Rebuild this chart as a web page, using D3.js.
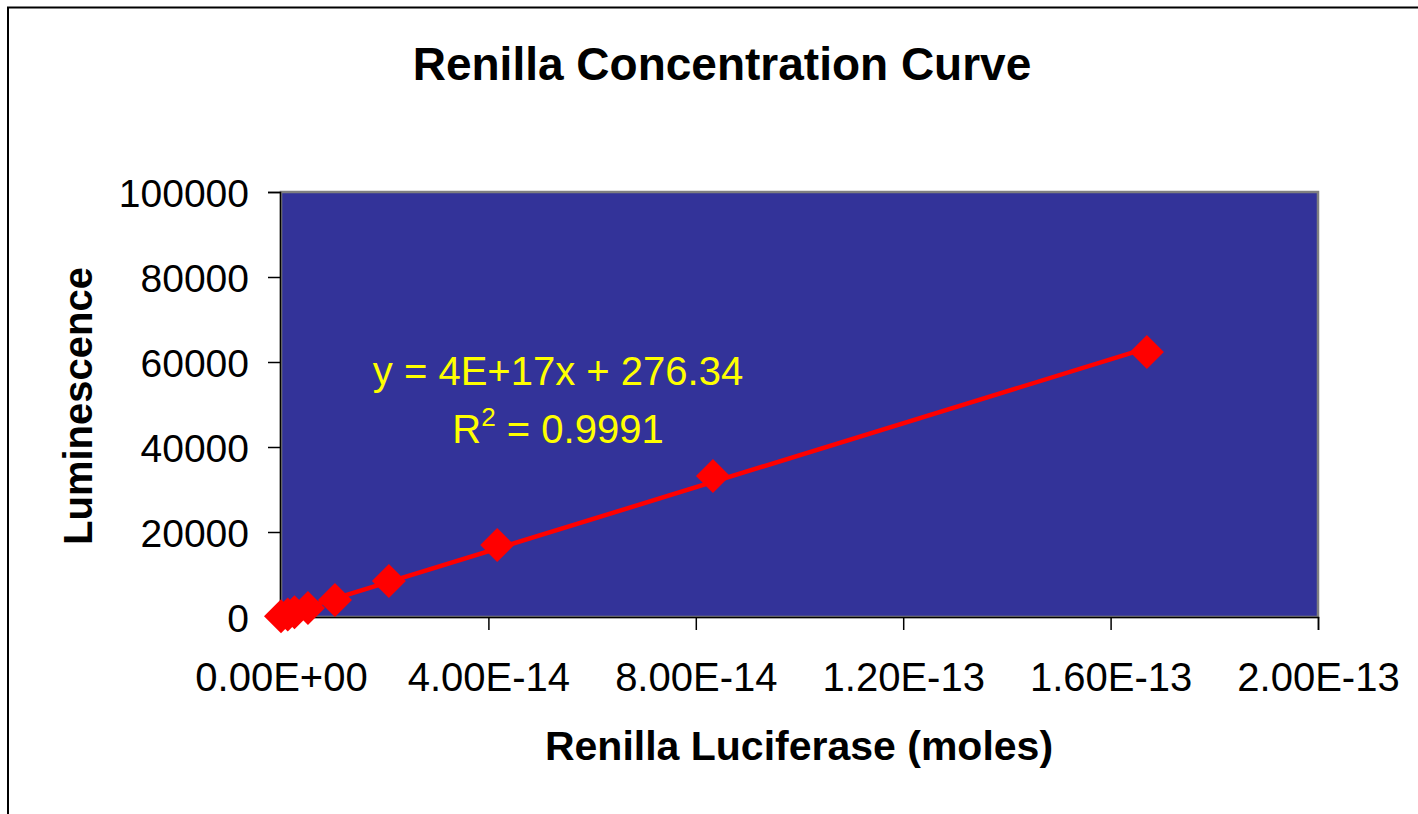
<!DOCTYPE html>
<html>
<head>
<meta charset="utf-8">
<script src="https://cdn.jsdelivr.net/npm/d3@7"></script>
<style>
html,body{margin:0;padding:0;background:#fff;}
svg{display:block;}
text{font-family:Arial,"Liberation Sans",sans-serif;}
</style>
</head>
<body>
<svg id="chart" width="1418" height="814"></svg>
<script>
// ---- data ----
const moles = [0, 1.3e-15, 2.6e-15, 5.2e-15, 1.04e-14, 2.08e-14, 4.17e-14, 8.33e-14, 1.67e-13];
const luminescence = [150, 600, 1100, 2100, 4000, 8450, 16950, 33200, 62350];
const xTicks = [0, 4e-14, 8e-14, 1.2e-13, 1.6e-13, 2e-13];
const yTicks = [0, 20000, 40000, 60000, 80000, 100000];
const titleText = "Renilla Concentration Curve";
const xTitle = "Renilla Luciferase (moles)";
const yTitle = "Luminescence";
const eqLine1 = "y = 4E+17x + 276.34";
const eqR2 = "0.9991";

const svg = d3.select("#chart");
const L = 281, R = 1318, T = 192, B = 617;

const x = d3.scaleLinear().domain([0, 2e-13]).range([L, R]);
const y = d3.scaleLinear().domain([0, 100000]).range([B, T]);

// outer chart border
svg.append("path").attr("d", "M8,814 L8,7.5 L1418,7.5").attr("fill", "none")
  .attr("stroke", "#000").attr("stroke-width", 2);

// plot area
svg.append("rect").attr("x", L).attr("y", T).attr("width", R - L).attr("height", B - T)
  .attr("fill", "#333399").attr("stroke", "#808080").attr("stroke-width", 2.5);

function fmtExp(v) {
  let s = v.toExponential(2).toUpperCase();
  return s.replace(/E([+-])(\d)$/, "E$10$2");
}

// axes
const xAxis = d3.axisBottom(x).tickValues(xTicks).tickSize(13).tickFormat(fmtExp);
const gx = svg.append("g").attr("transform", `translate(0,${B})`).call(xAxis);
gx.select(".domain").attr("stroke", "#000").attr("stroke-width", 1.5);
gx.selectAll(".tick line").attr("stroke", "#000").attr("stroke-width", 1.5);
gx.selectAll(".tick text").attr("font-size", 40).attr("fill", "#000")
  .attr("font-family", "Arial, 'Liberation Sans', sans-serif").attr("y", 74).attr("dy", 0);

const yAxis = d3.axisLeft(y).tickValues(yTicks).tickSize(12).tickFormat(d3.format("d"));
const gy = svg.append("g").attr("transform", `translate(${L - 1},0)`).call(yAxis);
gy.select(".domain").attr("stroke", "#000").attr("stroke-width", 1.5);
gy.selectAll(".tick line").attr("stroke", "#000").attr("stroke-width", 1.5);
gy.selectAll(".tick text").attr("font-size", 39).attr("fill", "#000")
  .attr("font-family", "Arial, 'Liberation Sans', sans-serif").attr("x", -31).attr("dy", "0.36em");

// linear trendline (least squares from data)
const n = moles.length;
const mx = d3.mean(moles), my = d3.mean(luminescence);
let sxy = 0, sxx = 0;
for (let i = 0; i < n; i++) { sxy += (moles[i] - mx) * (luminescence[i] - my); sxx += (moles[i] - mx) ** 2; }
const slope = sxy / sxx, intercept = my - slope * mx;
const x0 = d3.min(moles), x1 = d3.max(moles);
svg.append("line")
  .attr("x1", x(x0)).attr("y1", y(slope * x0 + intercept))
  .attr("x2", x(x1)).attr("y2", y(slope * x1 + intercept))
  .attr("stroke", "#ff0000").attr("stroke-width", 4.5);

// markers
const h = 17;
svg.append("g").selectAll("path").data(moles.map((m, i) => [m, luminescence[i]]))
  .join("path")
  .attr("d", d => `M${x(d[0])},${y(d[1]) - h} L${x(d[0]) + h},${y(d[1])} L${x(d[0])},${y(d[1]) + h} L${x(d[0]) - h},${y(d[1])} Z`)
  .attr("fill", "#ff0000");

// equation text
const eq = svg.append("g").attr("fill", "#ffff00").attr("font-size", 40);
eq.append("text").attr("x", 558).attr("y", 385).attr("text-anchor", "middle").text(eqLine1);
const r2 = eq.append("text").attr("x", 558).attr("y", 443).attr("text-anchor", "middle");
r2.append("tspan").text("R");
r2.append("tspan").attr("font-size", 26).attr("dy", -17).text("2");
r2.append("tspan").attr("dy", 17).text(" = " + eqR2);

// titles
svg.append("text").attr("x", 722).attr("y", 80).attr("text-anchor", "middle")
  .attr("font-size", 46).attr("font-weight", "bold").text(titleText);
svg.append("text").attr("x", 799).attr("y", 760).attr("text-anchor", "middle")
  .attr("font-size", 41).attr("font-weight", "bold").text(xTitle);
svg.append("text").attr("transform", "translate(92,406) rotate(-90)").attr("text-anchor", "middle")
  .attr("font-size", 40).attr("font-weight", "bold").text(yTitle);
</script>
</body>
</html>
